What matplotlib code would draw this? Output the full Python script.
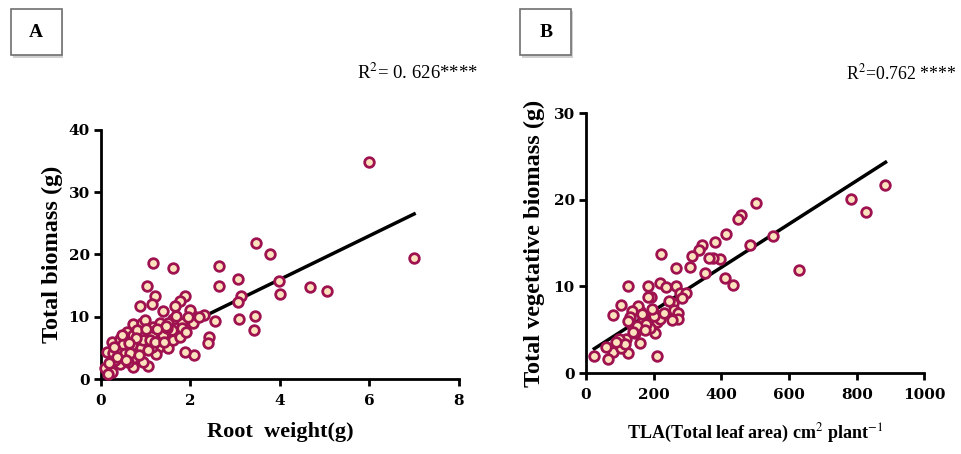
import numpy as np
import matplotlib.pyplot as plt
from matplotlib.patches import FancyBboxPatch

# panel A: root weight vs total biomass
root_w = [6.0, 7.0, 3.47, 3.77, 3.98, 4.0, 4.67, 5.05, 3.44, 3.43, 3.07, 3.13, 3.07, 3.09,
          2.64, 2.63, 2.55, 2.42, 2.4, 2.3, 2.08, 1.87, 2.06, 2.0, 1.88, 1.76, 1.61, 1.17,
          1.02, 1.21, 1.15, 0.87, 1.39, 1.65, 1.61, 1.82, 2.06, 1.73, 1.58, 1.39, 1.13, 1.30,
          1.5, 1.24, 1.13, 1.06, 0.94, 0.72, 0.72, 0.42, 0.24, 0.09, 0.13, 0.26, 0.24, 0.42,
          0.57, 0.71, 0.91, 0.98, 0.70, 0.89, 0.94, 1.09, 0.71, 0.42, 0.54, 0.31, 0.65, 1.17,
          1.32, 1.47, 1.5, 1.61, 1.76, 1.80, 0.35, 0.5, 0.8, 1.0, 1.2, 1.45, 0.6, 0.85, 0.15,
          0.3, 0.55, 0.78, 1.05, 1.25, 1.4, 1.68, 1.95, 0.48, 0.62, 0.18, 1.9, 2.2]
total_bm = [34.8, 19.5, 21.8, 20.1, 15.8, 13.7, 14.8, 14.2, 10.2, 7.8, 16.0, 13.3, 12.3, 9.7,
            18.1, 14.9, 9.4, 6.7, 5.8, 10.3, 3.8, 4.3, 10.2, 11.1, 13.4, 12.5, 17.8, 18.6,
            15.0, 13.4, 12.1, 11.8, 10.9, 11.7, 9.6, 9.0, 9.0, 7.4, 7.8, 7.1, 7.1, 5.2,
            5.0, 4.0, 5.2, 2.1, 2.8, 2.0, 3.4, 2.4, 1.2, 1.8, 4.3, 4.2, 6.0, 6.4,
            7.6, 8.9, 9.0, 9.5, 5.5, 5.0, 6.3, 6.3, 7.1, 5.0, 4.2, 3.1, 4.2, 8.4,
            9.0, 8.2, 9.0, 6.3, 6.8, 8.2, 3.5, 5.6, 7.8, 8.0, 6.0, 8.6, 2.8, 3.8, 0.8,
            5.2, 3.0, 6.6, 4.6, 8.0, 5.9, 10.2, 10.0, 7.0, 5.8, 2.6, 7.5, 10.0]
fit_a = [3.5, 2.0]        # slope, intercept
fit_a_x = [0.0, 7.0]

# panel B: total leaf area vs total vegetative biomass
tla = [884, 782, 828, 629, 553, 502, 484, 459, 450, 415, 410, 435, 397, 381, 376, 364,
       352, 342, 334, 312, 307, 267, 223, 218, 238, 267, 277, 297, 285, 256, 260, 272,
       273, 253, 192, 184, 125, 105, 79, 184, 199, 209, 218, 204, 211, 189, 169, 159,
       154, 135, 130, 135, 125, 159, 145, 120, 125, 98, 81, 66, 59, 25, 105, 179, 150,
       140, 165, 200, 230, 245, 115, 90, 175, 195]
tvb = [21.7, 20.1, 18.6, 11.9, 15.8, 19.6, 14.8, 18.2, 17.8, 16.0, 11.0, 10.2, 13.2, 15.1,
       13.3, 13.3, 11.6, 14.8, 14.2, 13.5, 12.3, 12.1, 13.7, 10.4, 9.9, 10.1, 9.2, 9.2,
       8.7, 8.1, 7.3, 6.9, 6.3, 6.1, 8.8, 10.0, 10.1, 7.9, 6.7, 8.8, 7.1, 5.9, 6.3,
       4.6, 2.0, 5.2, 6.2, 7.2, 7.8, 7.2, 6.5, 5.6, 6.0, 3.5, 4.6, 4.0, 2.3, 4.0, 2.4,
       1.6, 3.0, 2.0, 2.9, 5.7, 5.4, 4.8, 6.8, 6.6, 6.9, 8.3, 3.4, 3.6, 5.0, 7.4]
fit_b = [0.025, 2.2]
fit_b_x = [25, 885]

plt.rcParams['font.family'] = ['Liberation Serif', 'DejaVu Serif']
plt.rcParams['mathtext.fontset'] = 'stix'

fig = plt.figure(figsize=(9.62, 4.54), dpi=100)
axA = fig.add_axes([0.105, 0.165, 0.372, 0.549])
axB = fig.add_axes([0.609, 0.178, 0.352, 0.573])

edge = '#9e1250'
face = '#fde3bd'


def style(ax):
    for s in ['top', 'right']:
        ax.spines[s].set_visible(False)
    for s in ['left', 'bottom']:
        ax.spines[s].set_linewidth(2)
    ax.tick_params(direction='out', length=5, width=2, pad=3)
    for lab in ax.get_xticklabels() + ax.get_yticklabels():
        lab.set_fontweight('bold')
        lab.set_family('DejaVu Serif')
        lab.set_fontsize(11)
    ax.tick_params(axis='x', pad=6)


# A
xa = np.array(fit_a_x)
axA.plot(xa, fit_a[0] * xa + fit_a[1], color='black', lw=2.5, zorder=2)
axA.scatter(root_w, total_bm, s=48, facecolor=face, edgecolor=edge, linewidth=2, zorder=3,
            clip_on=False)
axA.set_xlim(0, 8)
axA.set_ylim(0, 40)
axA.set_xticks([0, 2, 4, 6, 8])
axA.set_yticks([0, 10, 20, 30, 40])
style(axA)
axA.set_xlabel('Root  weight(g)', fontsize=16, fontweight='bold', labelpad=10)
axA.set_ylabel('Total biomass (g)', fontsize=17.5, fontweight='bold', labelpad=4)

# B
xb = np.array(fit_b_x)
axB.plot(xb, fit_b[0] * xb + fit_b[1], color='black', lw=2.5, zorder=2)
axB.scatter(tla, tvb, s=48, facecolor=face, edgecolor=edge, linewidth=2, zorder=3,
            clip_on=False)
axB.set_xlim(0, 1000)
axB.set_ylim(0, 30)
axB.set_xticks([0, 200, 400, 600, 800, 1000])
axB.set_yticks([0, 10, 20, 30])
style(axB)
axB.set_xlabel('TLA(Total leaf area) cm$^{2}$ plant$^{-1}$', fontsize=13, fontweight='bold',
               labelpad=14)
axB.set_ylabel('Total vegetative biomass (g)', fontsize=17.5, fontweight='bold', labelpad=6)

# R^2 annotations
fig.text(0.371, 0.84, 'R$^2$= 0. 626****', fontsize=13.5, va='center', ha='left')
fig.text(0.879, 0.838, 'R$^2$=0.762 ****', fontsize=12.8, va='center', ha='left')

# panel letter boxes
for x0, letter in [(0.011, 'A'), (0.541, 'B')]:
    shadow = FancyBboxPatch((x0 + 0.002, 0.878 - 0.006), 0.053, 0.103,
                            boxstyle='square,pad=0', transform=fig.transFigure,
                            facecolor='#d0d0d0', edgecolor='none')
    box = FancyBboxPatch((x0, 0.878), 0.053, 0.103, boxstyle='square,pad=0',
                         transform=fig.transFigure, facecolor='white',
                         edgecolor='#707070', linewidth=1.2)
    fig.add_artist(shadow)
    fig.add_artist(box)
    fig.text(x0 + 0.0265, 0.929, letter, fontsize=14, fontweight='bold',
             ha='center', va='center')

fig.savefig('out.png', dpi=100)
